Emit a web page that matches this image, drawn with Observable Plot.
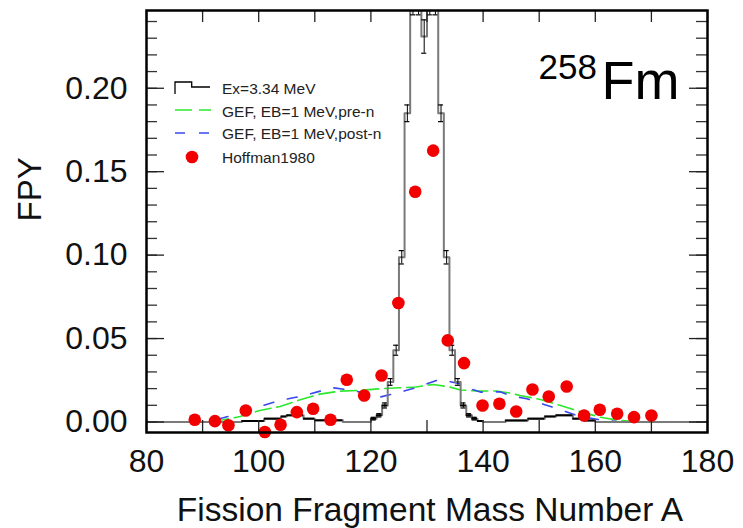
<!DOCTYPE html>
<html><head><meta charset="utf-8">
<script src="https://cdn.jsdelivr.net/npm/d3@7"></script>
<script src="https://cdn.jsdelivr.net/npm/@observablehq/plot@0.6"></script>
<style>html,body{margin:0;padding:0;background:#fff;}</style>
</head><body><div id="chart"></div>
<script>
// ---- Data ----
// Histogram "Ex=3.34 MeV": bin edges (mass number) and FPY values
const binLo  = [80, 97, 101, 104, 105, 108, 110, 115, 120, 121, 122, 123, 124, 125, 126, 127, 128, 129, 130, 131, 132, 133, 134, 135, 136, 137, 138, 139, 140, 144, 148, 151, 153, 156, 158, 160];
const binHi  = [97, 101, 104, 105, 108, 110, 115, 120, 121, 122, 123, 124, 125, 126, 127, 128, 129, 130, 131, 132, 133, 134, 135, 136, 137, 138, 139, 140, 144, 148, 151, 153, 156, 158, 160, 180];
const binFPY = [0, 0.0006, 0.002, 0.0033, 0.004, 0.002, 0.001, 0, 0.002, 0.004, 0.0099, 0.024, 0.043, 0.0987, 0.185, 0.252, 0.252, 0.231, 0.252, 0.252, 0.185, 0.0987, 0.043, 0.024, 0.0099, 0.004, 0.002, 0.0006, 0, 0.0009, 0.002, 0.0033, 0.004, 0.002, 0.0009, 0];
const binErr = [0, 0, 0, 0, 0, 0, 0, 0, 0.0008, 0.001, 0.0015, 0.002, 0.003, 0.004, 0.005, 0.008, 0.008, 0.01, 0.008, 0.008, 0.005, 0.004, 0.003, 0.002, 0.0015, 0.001, 0.0008, 0, 0, 0, 0, 0, 0, 0, 0, 0];

// GEF, EB=1 MeV, pre-n
const preA   = [80, 90, 91, 93.7, 96.7, 100.2, 103.8, 107.4, 110.9, 114.5, 118.1, 121.7, 125.2, 128, 131.1, 134, 136, 139.5, 142.4, 144.8, 146.6, 150.2, 153.8, 157.3, 160.8, 164.4, 168, 180];
const preFPY = [0, 0, 0.0002, 0.0013, 0.0033, 0.0069, 0.0093, 0.0133, 0.0167, 0.0185, 0.019, 0.0199, 0.0205, 0.021, 0.0225, 0.021, 0.0192, 0.0185, 0.0186, 0.0173, 0.0159, 0.0135, 0.0099, 0.0063, 0.0029, 0.0009, 0, 0];

// GEF, EB=1 MeV, post-n
const postA   = [80, 90, 91, 93.7, 96.7, 100.2, 103.8, 107.4, 110.3, 113.3, 116.9, 119.8, 121.6, 125.2, 128.2, 131.7, 133, 135.9, 138.3, 139.5, 143, 144.8, 147.8, 150.2, 153.8, 157.3, 160.8, 164.4, 180];
const postFPY = [0, 0, 0.0003, 0.0025, 0.0053, 0.0093, 0.0129, 0.0153, 0.0179, 0.0205, 0.0189, 0.0162, 0.0149, 0.0179, 0.0207, 0.0249, 0.025, 0.0229, 0.0193, 0.0179, 0.0181, 0.0159, 0.0139, 0.0113, 0.0073, 0.0033, 0.0013, 0, 0];

// Hoffman1980
const hofA   = [88.6, 92.2, 94.6, 97.7, 101.1, 103.9, 106.8, 109.7, 112.8, 115.7, 118.8, 121.9, 124.9, 127.9, 131.1, 133.7, 136.6, 139.9, 142.9, 145.9, 148.8, 151.7, 154.9, 158.0, 160.8, 163.9, 166.9, 170.0];
const hofFPY = [0.0013, 0.0005, -0.002, 0.0069, -0.006, -0.0017, 0.0059, 0.0079, 0.0013, 0.0253, 0.0159, 0.0279, 0.0713, 0.138, 0.1626, 0.0489, 0.0353, 0.0099, 0.0109, 0.0063, 0.0195, 0.0153, 0.0213, 0.0039, 0.0073, 0.0049, 0.0029, 0.0039];

// Axes / text
const xTickLabels = [80, 100, 120, 140, 160, 180];
const xTicks = [80, 90, 100, 110, 120, 130, 140, 150, 160, 170, 180];
const yTickLabels = [0, 0.05, 0.10, 0.15, 0.20];
const yTicks = [0, 0.01, 0.02, 0.03, 0.04, 0.05, 0.06, 0.07, 0.08, 0.09, 0.10, 0.11, 0.12, 0.13, 0.14, 0.15, 0.16, 0.17, 0.18, 0.19, 0.20, 0.21, 0.22, 0.23, 0.24];
const xTitle = "Fission Fragment Mass Number A";
const yTitle = "FPY";
const nucleusMass = "258";
const nucleusSymbol = "Fm";
const legendLabels = ["Ex=3.34 MeV", "GEF, EB=1 MeV,pre-n", "GEF, EB=1 MeV,post-n", "Hoffman1980"];

// ---- Build tables ----
const bins = binLo.map((lo, i) => ({lo, hi: binHi[i], y: binFPY[i], err: binErr[i], c: (lo + binHi[i]) / 2}));
const stepPts = bins.map(b => ({x: b.lo, y: b.y})).concat([{x: bins[bins.length - 1].hi, y: bins[bins.length - 1].y}]);
const errBins = bins.filter(b => b.err > 0);
const pre = preA.map((a, i) => ({a, y: preFPY[i]}));
const post = postA.map((a, i) => ({a, y: postFPY[i]}));
const hof = hofA.map((a, i) => ({a, y: hofFPY[i]}));

const W = 743, H = 528, mL = 146, mR = 36, mT = 10, mB = 96;
const innerW = W - mL - mR, innerH = H - mT - mB;
const green = "#2ee82e", blue = "#3a48ee", red = "#f20000";

const plot = Plot.plot({
  width: W, height: H,
  marginLeft: mL, marginRight: mR, marginTop: mT, marginBottom: mB,
  style: {fontFamily: "'Liberation Sans', Arial, sans-serif", background: "#fff", color: "#111"},
  x: {domain: [80, 180]},
  y: {domain: [-0.0063, 0.2466]},
  marks: [
    // GEF curves
    Plot.line(pre, {x: "a", y: "y", stroke: green, strokeWidth: 1.6, strokeDasharray: "16,6", clip: true}),
    Plot.line(post, {x: "a", y: "y", stroke: blue, strokeWidth: 1.6, strokeDasharray: "10,14", clip: true}),
    // histogram
    Plot.line(stepPts, {x: "x", y: "y", curve: "step-after", stroke: "#7a7a7a", strokeWidth: 2, clip: true}),
    Plot.ruleY(bins.filter(b => b.y > 0 && b.y < 0.01), {x1: "lo", x2: "hi", y: "y", stroke: "#000", strokeWidth: 2, clip: true}),
    // error bars
    Plot.ruleX(errBins, {x: "c", y1: b => b.y - b.err, y2: b => b.y + b.err, stroke: "#000", strokeWidth: 1, clip: true}),
    Plot.ruleY(errBins, {x1: b => b.c - 0.45, x2: b => b.c + 0.45, y: b => b.y - b.err, stroke: "#000", strokeWidth: 1.2, clip: true}),
    Plot.ruleY(errBins, {x1: b => b.c - 0.45, x2: b => b.c + 0.45, y: b => b.y + b.err, stroke: "#000", strokeWidth: 1.2, clip: true}),
    // Hoffman points
    Plot.dot(hof, {x: "a", y: "y", r: 6.3, fill: red, stroke: "none"}),
    // inward ticks
    Plot.ruleX(xTicks, {x: d => d, insetTop: innerH - 12, stroke: "#222", strokeWidth: 1.3}),
    Plot.ruleX(xTicks, {x: d => d, insetBottom: innerH - 12, stroke: "#222", strokeWidth: 1.3}),
    Plot.ruleY(yTicks, {y: d => d, insetRight: innerW - 11, stroke: "#333", strokeWidth: 1.3}),
    Plot.ruleY(yTickLabels, {y: d => d, insetRight: innerW - 18, stroke: "#222", strokeWidth: 1.3}),
    Plot.ruleY(yTicks, {y: d => d, insetLeft: innerW - 11, stroke: "#333", strokeWidth: 1.3}),
    Plot.ruleY(yTickLabels, {y: d => d, insetLeft: innerW - 18, stroke: "#222", strokeWidth: 1.3}),
    Plot.frame({stroke: "#000", strokeWidth: 2.5}),
    // axis labels
    Plot.axisX(xTickLabels, {tickSize: 0, tickPadding: 17, fontSize: 32, tickFormat: d => String(d), label: null, fill: "#111"}),
    Plot.axisY(yTickLabels, {tickSize: 0, tickPadding: 19, fontSize: 32, tickFormat: d => d.toFixed(2), label: null, fill: "#111"}),
    Plot.text([xTitle], {frameAnchor: "bottom", dx: 3, dy: 88, fontSize: 33.5, lineAnchor: "bottom", fill: "#111"}),
    Plot.text([yTitle], {frameAnchor: "left", dx: -116, rotate: -90, fontSize: 33, fill: "#111"}),
    // nucleus label
    Plot.text([nucleusMass], {frameAnchor: "top-left", dx: 392, dy: 68, fontSize: 35, textAnchor: "start", lineAnchor: "bottom", fill: "#000"}),
    Plot.text([nucleusSymbol], {frameAnchor: "top-left", dx: 455, dy: 88, fontSize: 54, textAnchor: "start", lineAnchor: "bottom", fill: "#000"})
  ]
});
document.getElementById("chart").appendChild(plot);

// ---- Legend (pixel layout inside the frame) ----
const svg = d3.select(plot);
const lg = svg.append("g")
  .attr("font-family", "'Liberation Sans', Arial, sans-serif")
  .attr("font-size", 15.5)
  .attr("text-anchor", "start")
  .attr("fill", "#222");
lg.append("path").attr("d", "M175,94V82H191.7V87H210").attr("fill", "none").attr("stroke", "#000").attr("stroke-width", 1.3);
lg.append("line").attr("x1", 175).attr("x2", 211).attr("y1", 110).attr("y2", 110).attr("stroke", green).attr("stroke-width", 1.6).attr("stroke-dasharray", "17,7");
lg.append("line").attr("x1", 175).attr("x2", 211).attr("y1", 133).attr("y2", 133).attr("stroke", blue).attr("stroke-width", 1.6).attr("stroke-dasharray", "10,14");
lg.append("circle").attr("cx", 192).attr("cy", 157).attr("r", 6.3).attr("fill", red);
const rowY = [93.5, 116.5, 139, 163];
legendLabels.forEach((t, i) => lg.append("text").attr("x", 222).attr("y", rowY[i]).attr("text-anchor", "start").text(t));
</script>
</body></html>
